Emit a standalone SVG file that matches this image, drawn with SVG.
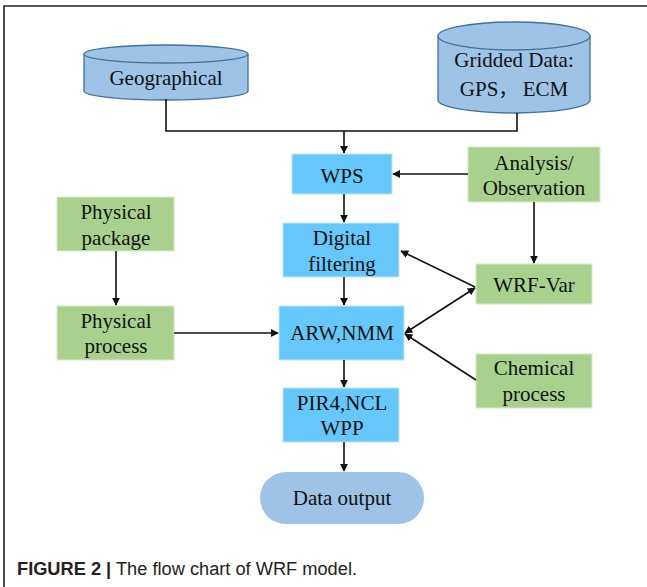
<svg xmlns="http://www.w3.org/2000/svg" width="647" height="587" viewBox="0 0 647 587">
<style>
.t{font-family:"Liberation Serif","Times New Roman","Noto Sans CJK SC",serif;font-size:21px;fill:#111;text-anchor:middle}
.blue{fill:#66C8FA;stroke:#BFE6FB;stroke-width:1}
.green{fill:#A9D18E;stroke:#D6EACB;stroke-width:1}
.cyl{fill:#9DC3E6;stroke:#41719C;stroke-width:1.3}
.c{fill:none;stroke:#111;stroke-width:1.6}
</style>
<defs>
<marker id="ah" viewBox="0 0 10 10" refX="9" refY="5" markerWidth="8" markerHeight="8" markerUnits="userSpaceOnUse" orient="auto-start-reverse">
<path d="M0,0 L10,5 L0,10 z" fill="#111"/>
</marker>
</defs>
<rect width="647" height="587" fill="#fff"/>
<path d="M4,587 V6 H647" fill="none" stroke="#222" stroke-width="1.6"/>

<g id="geographical">
<path class="cyl" d="M84,54 V91 A82,9 0 0 0 248,91 V54"/>
<ellipse class="cyl" cx="166" cy="54" rx="82" ry="9"/>
<text class="t" x="166" y="85">Geographical</text>
</g>
<g id="gridded">
<path class="cyl" d="M438,36 V100 A76,13 0 0 0 590,100 V36"/>
<ellipse class="cyl" cx="514" cy="36" rx="76" ry="14"/>
<text class="t" x="514" y="67">Gridded Data:</text>
<text class="t" x="514" y="96">GPS<tspan font-family="Noto Sans CJK SC, sans-serif" font-size="19">，</tspan> ECM</text>
</g>
<g id="wps"><rect class="blue" x="292" y="154" width="100" height="40"/><text class="t" x="342" y="183">WPS</text></g>
<g id="analysis"><rect class="green" x="468" y="147" width="132" height="55"/><text class="t" x="534" y="170">Analysis/</text><text class="t" x="534" y="195">Observation</text></g>
<g id="digital"><rect class="blue" x="283" y="223" width="116" height="54"/><text class="t" x="342" y="245">Digital</text><text class="t" x="342" y="271">filtering</text></g>
<g id="wrfvar"><rect class="green" x="476" y="264" width="116" height="40"/><text class="t" x="534" y="292">WRF-Var</text></g>
<g id="physpkg"><rect class="green" x="57" y="197" width="117" height="54"/><text class="t" x="116" y="219">Physical</text><text class="t" x="116" y="245">package</text></g>
<g id="physproc"><rect class="green" x="57" y="306" width="117" height="54"/><text class="t" x="116" y="328">Physical</text><text class="t" x="116" y="353">process</text></g>
<g id="arw"><rect class="blue" x="279" y="306" width="125" height="54"/><text class="t" x="342" y="340">ARW,NMM</text></g>
<g id="chemical"><rect class="green" x="476" y="354" width="116" height="54"/><text class="t" x="534" y="375">Chemical</text><text class="t" x="534" y="401">process</text></g>
<g id="pir4"><rect class="blue" x="283" y="388" width="116" height="54"/><text class="t" x="342" y="410">PIR4,NCL</text><text class="t" x="342" y="435">WPP</text></g>
<g id="output"><rect x="260" y="472" width="164" height="52" rx="26" ry="26" fill="#9DC3E6"/><text class="t" x="342" y="505">Data output</text></g>

<g id="connectors">
<path class="c" d="M166,99 V131 H517 V113"/>
<path class="c" d="M344,131 V153" marker-end="url(#ah)"/>
<path class="c" d="M468,174 H393" marker-end="url(#ah)"/>
<path class="c" d="M344,194 V222" marker-end="url(#ah)"/>
<path class="c" d="M534,202 V263" marker-end="url(#ah)"/>
<path class="c" d="M475,287 L401,251" marker-end="url(#ah)"/>
<path class="c" d="M116,251 V305" marker-end="url(#ah)"/>
<path class="c" d="M174,333 H278" marker-end="url(#ah)"/>
<path class="c" d="M344,277 V305" marker-end="url(#ah)"/>
<path class="c" d="M475,288 L405,333" marker-start="url(#ah)" marker-end="url(#ah)"/>
<path class="c" d="M476,380 L405,334" marker-end="url(#ah)"/>
<path class="c" d="M344,360 V387" marker-end="url(#ah)"/>
<path class="c" d="M344,442 V471" marker-end="url(#ah)"/>
</g>

<text x="17" y="575" font-family="Liberation Sans, Arial, sans-serif" font-size="18" fill="#222" textLength="340" lengthAdjust="spacingAndGlyphs"><tspan font-weight="bold">FIGURE 2 |</tspan> The flow chart of WRF model.</text>
</svg>
